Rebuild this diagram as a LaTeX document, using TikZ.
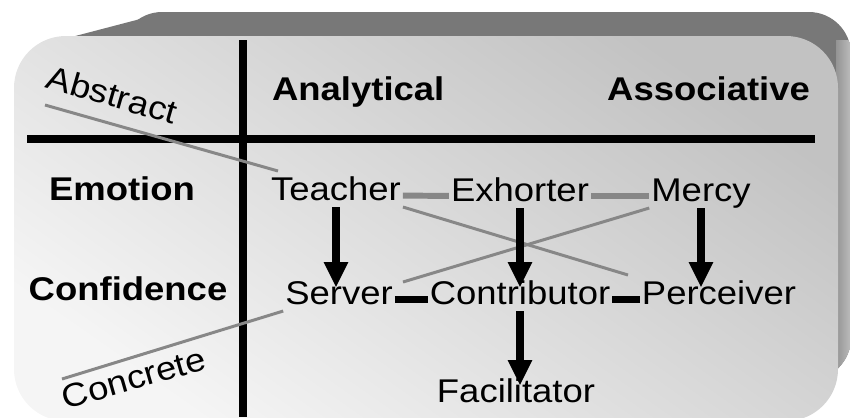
\documentclass[tikz,border=0pt]{standalone}
\usepackage{fontspec}
\setmainfont{Liberation Sans}[FakeStretch=1.11]
\usepackage{tikz}
\usetikzlibrary{
  arrows.meta,
  positioning
}
\usepackage{xcolor}
\definecolor{faceLight}{gray}{0.96}
\definecolor{faceDark}{gray}{0.76}
\definecolor{topGray}{gray}{0.47}
\definecolor{sideDark}{gray}{0.58}
\definecolor{sideLight}{gray}{0.74}
\definecolor{lineGray}{gray}{0.53}
\tikzset{
  gift/.style={
    font=\fontsize{18.7}{22}\selectfont,
    inner xsep=1pt,
    inner ysep=1.7pt,
    text height=0.75em,
    text depth=0.21em
  },
  head/.style={
    gift,
    font=\fontsize{18.7}{22}\selectfont\bfseries
  },
  pole/.style={
    font=\fontsize{18.7}{22}\selectfont,
    inner sep=0pt
  }
}

\begin{document}
\begin{tikzpicture}[
      x=0.02cm, y=-0.02cm,
      >={Triangle[width=13pt,length=14.5pt]},
      divider/.style={line width=4pt},
      grayBar/.style={draw=lineGray, line width=3.4pt},
      blackBar/.style={line width=4pt},
      downArrow/.style={->, line width=4pt},
      thinGray/.style={draw=lineGray, line width=1.7pt}
      ]
      \useasboundingbox (0,0) rectangle (850,417);
      \clip (0,0) rectangle (850,417);

      % extruded back of the box
      \fill[topGray] (60,40) -- (167,12) -- (200,12) -- (200,60) -- cycle;
      \fill[topGray, rounded corners=24pt] (120,12) rectangle (851,380);
      \begin{scope}
        \clip[rounded corners=24pt] (120,12) rectangle (851,380);
        \shade[left color=sideDark, right color=sideLight] (836,40) rectangle (851,420);
      \end{scope}
      \shade[top color=faceDark, bottom color=faceLight, shading angle=-35,
        rounded corners=29.5pt] (14,36) rectangle (838,421);

      \draw[divider] (243,40) -- (243,417);
      \draw[divider] (27,139) -- (815,139);

      \node[head, anchor=base west] (anal) at (270,100) {Analytical};
      \node[head, anchor=base east] (assoc) at (812,100) {Associative};
      \node[head, anchor=base] (emo) at (122,200) {Emotion};
      \node[head, anchor=base] (conf) at (128,300) {Confidence};

      \node[gift, anchor=base] (teach) at (336,200) {Teacher};
      \node[gift, anchor=base] (exh) at (520,201) {Exhorter};
      \node[gift, anchor=base] (mercy) at (701,201) {Mercy};
      \node[gift, anchor=base] (serv) at (339,304) {Server};
      \node[gift, anchor=base] (contr) at (520,304) {Contributor};
      \node[gift, anchor=base] (perc) at (719,304) {Perceiver};
      \node[gift, anchor=base] (facil) at (516,402) {Facilitator};

      \node[pole, rotate=-16, anchor=base] (abs) at (109,106) {Abstract};
      \node[pole, rotate=16, anchor=base] (conc) at (137,389) {Concrete};

      \coordinate (abs0) at (45,105);
      \coordinate (abs1) at (278,171);
      \coordinate (abs2) at (628,275);
      \coordinate (conc0) at (62,379);
      \coordinate (conc1) at (403,282);

      \draw[thinGray] (abs0) -- (abs1);
      \draw[thinGray] (teach.south east) -- (abs2);
      \draw[thinGray] (conc0) -- (serv.south west);
      \draw[thinGray] (conc1) -- (mercy.south west);

      \draw[grayBar] (teach) -- (exh);
      \draw[grayBar] (exh) -- (mercy);
      \draw[blackBar] (serv) -- (contr);
      \draw[blackBar] (contr) -- (perc);

      \draw[downArrow] (teach) -- (teach |- serv.north);
      \draw[downArrow] (exh) -- (exh |- contr.north);
      \draw[downArrow] (mercy) -- (mercy |- perc.north);
      \draw[downArrow] (contr) -- (contr |- facil.north);
    \end{tikzpicture}
\end{document}
